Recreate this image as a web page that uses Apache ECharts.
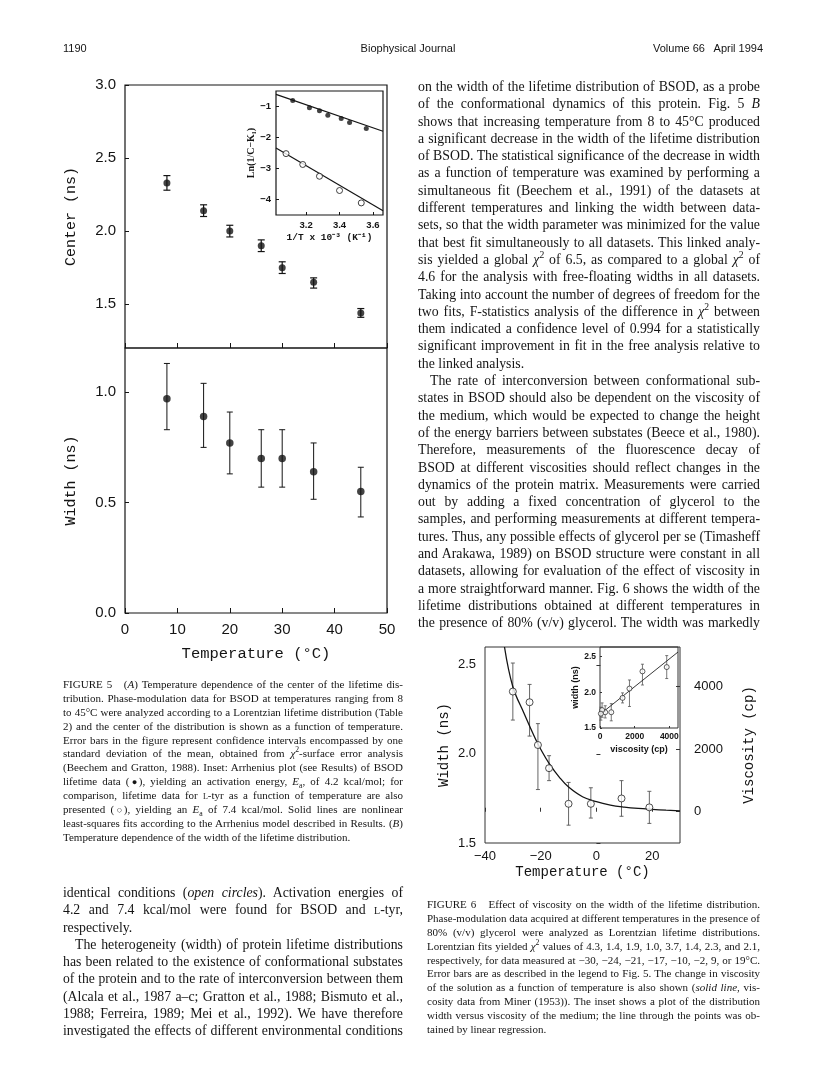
<!DOCTYPE html>
<html><head><meta charset="utf-8">
<script src="https://cdn.jsdelivr.net/npm/echarts/dist/echarts.min.js"></script>
<style>
body{margin:0;width:816px;height:1067px;position:relative;background:#fff;overflow:hidden;color:#141414}
#chart{position:absolute;left:0;top:0;width:816px;height:1067px}
.hdr{position:absolute;top:41px;font-family:"Liberation Sans";font-size:11px;line-height:14px;white-space:nowrap}
.col{position:absolute;font-family:"Liberation Serif"}
.col div{white-space:nowrap;text-align:justify;text-align-last:justify}
.col div.e{text-align-last:left}
.body{font-size:13.8px}
.body div{height:17.3px;line-height:17.3px}
.cap{font-size:11px}
.cap div{height:13.9px;line-height:13.9px}
sup{font-size:70%;line-height:0;vertical-align:super}
sub{font-size:70%;line-height:0}
.sc{font-variant:small-caps}
.ind{padding-left:12px}
.sym{font-family:"Liberation Serif","DejaVu Sans";font-size:85%;letter-spacing:-1px}
</style></head><body>
<div id="chart"></div>

<div class="hdr" style="left:63px">1190</div>
<div class="hdr" style="left:0;width:816px;text-align:center">Biophysical Journal</div>
<div class="hdr" style="left:653px;width:104px;text-align:justify;text-align-last:justify">Volume 66&nbsp;&nbsp; April 1994</div>

<div class="col body" style="left:418px;top:78px;width:342px">
<div>on the width of the lifetime distribution of BSOD, as a probe</div>
<div>of the conformational dynamics of this protein. Fig. 5 <i>B</i></div>
<div>shows that increasing temperature from 8 to 45°C produced</div>
<div>a significant decrease in the width of the lifetime distribution</div>
<div>of BSOD. The statistical significance of the decrease in width</div>
<div>as a function of temperature was examined by performing a</div>
<div>simultaneous fit (Beechem et al., 1991) of the datasets at</div>
<div>different temperatures and linking the width between data-</div>
<div>sets, so that the width parameter was minimized for the value</div>
<div>that best fit simultaneously to all datasets. This linked analy-</div>
<div>sis yielded a global <i>χ</i><sup>2</sup> of 6.5, as compared to a global <i>χ</i><sup>2</sup> of</div>
<div>4.6 for the analysis with free-floating widths in all datasets.</div>
<div>Taking into account the number of degrees of freedom for the</div>
<div>two fits, F-statistics analysis of the difference in <i>χ</i><sup>2</sup> between</div>
<div>them indicated a confidence level of 0.994 for a statistically</div>
<div>significant improvement in fit in the free analysis relative to</div>
<div class="e">the linked analysis.</div>
<div class="ind">The rate of interconversion between conformational sub-</div>
<div>states in BSOD should also be dependent on the viscosity of</div>
<div>the medium, which would be expected to change the height</div>
<div>of the energy barriers between substates (Beece et al., 1980).</div>
<div>Therefore, measurements of the fluorescence decay of</div>
<div>BSOD at different viscosities should reflect changes in the</div>
<div>dynamics of the protein matrix. Measurements were carried</div>
<div>out by adding a fixed concentration of glycerol to the</div>
<div>samples, and performing measurements at different tempera-</div>
<div>tures. Thus, any possible effects of glycerol per se (Timasheff</div>
<div>and Arakawa, 1989) on BSOD structure were constant in all</div>
<div>datasets, allowing for evaluation of the effect of viscosity in</div>
<div>a more straightforward manner. Fig. 6 shows the width of the</div>
<div>lifetime distributions obtained at different temperatures in</div>
<div>the presence of 80% (v/v) glycerol. The width was markedly</div>
</div>

<div class="col cap" style="left:63px;top:678px;width:340px">
<div>FIGURE 5&nbsp;&nbsp; (<i>A</i>) Temperature dependence of the center of the lifetime dis-</div>
<div>tribution. Phase-modulation data for BSOD at temperatures ranging from 8</div>
<div>to 45°C were analyzed according to a Lorentzian lifetime distribution (Table</div>
<div>2) and the center of the distribution is shown as a function of temperature.</div>
<div>Error bars in the figure represent confidence intervals encompassed by one</div>
<div>standard deviation of the mean, obtained from <i>χ</i><sup>2</sup>-surface error analysis</div>
<div>(Beechem and Gratton, 1988). Inset: Arrhenius plot (see Results) of BSOD</div>
<div>lifetime data (<span class="sym">●</span>), yielding an activation energy, <i>E</i><sub>a</sub>, of 4.2 kcal/mol; for</div>
<div>comparison, lifetime data for <span class="sc">l</span>-tyr as a function of temperature are also</div>
<div>presented (<span class="sym">○</span>), yielding an <i>E</i><sub>a</sub> of 7.4 kcal/mol. Solid lines are nonlinear</div>
<div>least-squares fits according to the Arrhenius model described in Results. (<i>B</i>)</div>
<div class="e">Temperature dependence of the width of the lifetime distribution.</div>
</div>

<div class="col body" style="left:63px;top:884px;width:340px">
<div>identical conditions (<i>open circles</i>). Activation energies of</div>
<div>4.2 and 7.4 kcal/mol were found for BSOD and <span class="sc">l</span>-tyr,</div>
<div class="e">respectively.</div>
<div class="ind">The heterogeneity (width) of protein lifetime distributions</div>
<div>has been related to the existence of conformational substates</div>
<div>of the protein and to the rate of interconversion between them</div>
<div>(Alcala et al., 1987 a–c; Gratton et al., 1988; Bismuto et al.,</div>
<div>1988; Ferreira, 1989; Mei et al., 1992). We have therefore</div>
<div>investigated the effects of different environmental conditions</div>
</div>

<div class="col cap" style="left:427px;top:898px;width:333px">
<div>FIGURE 6&nbsp;&nbsp; Effect of viscosity on the width of the lifetime distribution.</div>
<div>Phase-modulation data acquired at different temperatures in the presence of</div>
<div>80% (v/v) glycerol were analyzed as Lorentzian lifetime distributions.</div>
<div>Lorentzian fits yielded <i>χ</i><sup>2</sup> values of 4.3, 1.4, 1.9, 1.0, 3.7, 1.4, 2.3, and 2.1,</div>
<div>respectively, for data measured at −30, −24, −21, −17, −10, −2, 9, or 19°C.</div>
<div>Error bars are as described in the legend to Fig. 5. The change in viscosity</div>
<div>of the solution as a function of temperature is also shown (<i>solid line</i>, vis-</div>
<div>cosity data from Miner (1953)). The inset shows a plot of the distribution</div>
<div>width versus viscosity of the medium; the line through the points was ob-</div>
<div class="e">tained by linear regression.</div>
</div>

<script>
// fit each text line into its column width (shrink only if the line would overflow)
document.querySelectorAll('.col div').forEach(function(d){
  var cs = getComputedStyle(d);
  var m = document.createElement('span');
  m.style.cssText = 'position:absolute;visibility:hidden;white-space:nowrap;font-family:' + cs.fontFamily + ';font-size:' + cs.fontSize;
  m.innerHTML = d.innerHTML;
  document.body.appendChild(m);
  var w = m.getBoundingClientRect().width;
  var avail = d.clientWidth - (parseFloat(cs.paddingLeft) || 0);
  if (w > avail) d.style.fontSize = (parseFloat(cs.fontSize) * avail / w * 0.99) + 'px';
  m.remove();
});
</script>

<script>
// ---------- Figure 5 (A): center vs temperature ----------
var fig5Temp   = [8, 15, 20, 26, 30, 36, 45];
var centerNs   = [2.33, 2.14, 2.00, 1.90, 1.75, 1.65, 1.44];
var centerLo   = [2.28, 2.10, 1.96, 1.86, 1.71, 1.61, 1.41];
var centerHi   = [2.38, 2.18, 2.04, 1.94, 1.79, 1.68, 1.47];
// ---------- Figure 5 (B): width vs temperature ----------
var widthNs    = [0.97, 0.89, 0.77, 0.70, 0.70, 0.64, 0.55];
var widthLo    = [0.83, 0.75, 0.63, 0.57, 0.57, 0.515, 0.435];
var widthHi    = [1.13, 1.04, 0.91, 0.83, 0.83, 0.77, 0.66];
// ---------- Figure 5 inset: Arrhenius plot ----------
var bsodInvT   = [3.12, 3.22, 3.28, 3.33, 3.41, 3.46, 3.56];
var bsodLn     = [-0.81, -1.04, -1.14, -1.28, -1.39, -1.52, -1.71];
var bsodFitX   = [3.02, 3.66];
var bsodFitY   = [-0.61, -1.80];
var tyrInvT    = [3.08, 3.18, 3.28, 3.40, 3.53];
var tyrLn      = [-2.52, -2.87, -3.25, -3.71, -4.11];
var tyrFitX    = [3.02, 3.66];
var tyrFitY    = [-2.34, -4.36];
// ---------- Figure 6: width vs temperature in 80% glycerol ----------
var fig6Temp   = [-30, -24, -21, -17, -10, -2, 9, 19];
var fig6Width  = [2.35, 2.29, 2.05, 1.92, 1.72, 1.72, 1.75, 1.70];
var fig6Lo     = [2.19, 2.10, 1.80, 1.85, 1.60, 1.64, 1.65, 1.61];
var fig6Hi     = [2.51, 2.39, 2.17, 1.99, 1.84, 1.81, 1.85, 1.79];
var viscTemp   = [-33, -30, -26, -22, -20, -17, -13, -10, -5, 0, 5, 10, 15, 20, 25, 30];
var viscCp     = [5270, 4000, 3150, 2350, 2000, 1550, 1070, 790, 480, 320, 215, 150, 105, 75, 50, 30];
// ---------- Figure 6 inset: width vs viscosity ----------
var insetVisc  = [3850, 2450, 1700, 1300, 650, 300, 120, 50];
var insetFitX  = [0, 4500];
var insetFitY  = [1.69, 2.56];
// ---------- tick labels ----------
var f5CenterTicks = [1.5, 2.0, 2.5, 3.0];
var f5WidthTicks  = [0, 0.5, 1.0];
var f5InsetXTicks = [3.2, 3.4, 3.6];
var f5InsetYTicks = [-4, -3, -2, -1];
var f6XTicks      = [-40, -20, 0, 20];
var f6YTicks      = [1.5, 2.0, 2.5];
var f6ViscTicks   = [0, 2000, 4000];
var f6InXTicks    = [0, 2000, 4000];
var f6InYTicks    = [1.5, 2.0, 2.5];

function zip2(a, b){ return a.map(function(v,i){ return [v, b[i]]; }); }
function zip3(a, b, c){ return a.map(function(v,i){ return [v, b[i], c[i]]; }); }
function neg(v){ return (v < 0 ? '\u2212' : '') + Math.abs(v); }
function fix1(v){ return (v < 0 ? '\u2212' : '') + Math.abs(v).toFixed(1); }

function errBar(cap, color, w){
  return function(params, api){
    var x = api.value(0), lo = api.value(1), hi = api.value(2);
    var a = api.coord([x, lo]), b = api.coord([x, hi]);
    var st = {stroke: color, lineWidth: w};
    return {type:'group', children:[
      {type:'line', shape:{x1:a[0], y1:a[1], x2:b[0], y2:b[1]}, style:st},
      {type:'line', shape:{x1:a[0]-cap, y1:a[1], x2:a[0]+cap, y2:a[1]}, style:st},
      {type:'line', shape:{x1:b[0]-cap, y1:b[1], x2:b[0]+cap, y2:b[1]}, style:st}
    ]};
  };
}

var INK = '#141414';
var sans = 'Liberation Sans', mono = 'Liberation Mono';
function tick(vals, len, col){ var t = {show:true, inside:true, length:len, lineStyle:{color:col||INK, width:1}}; if (vals) t.customValues = vals; return t; }
function lab(vals, fmt, size, margin, extra){
  var l = {show:true, fontFamily:sans, fontSize:size, color:INK, margin:margin, formatter:fmt};
  if (vals) l.customValues = vals;
  if (extra) for (var k in extra) l[k] = extra[k];
  return l;
}
var noLine = {show:false};
var noSplit = {show:false};

var chart = echarts.init(document.getElementById('chart'), null, {renderer:'canvas'});
chart.setOption({
  animation: false,
  backgroundColor: 'transparent',
  grid: [
    {left:125, top:85,  width:262, height:263, show:true, borderColor:INK, borderWidth:1.2},
    {left:125, top:348, width:262, height:265, show:true, borderColor:INK, borderWidth:1.2},
    {left:276, top:91,  width:107, height:124, show:true, borderColor:INK, borderWidth:1.2},
    {left:485, top:647, width:195, height:196, show:true, borderColor:'#333', borderWidth:1},
    {left:600, top:647, width:78,  height:81,  show:true, borderColor:'#333', borderWidth:1}
  ],
  xAxis: [
    {gridIndex:0, type:'value', min:0, max:50, interval:10, axisLine:noLine, splitLine:noSplit,
     axisTick:tick(null,5), axisLabel:{show:false}},
    {gridIndex:1, type:'value', min:0, max:50, interval:10, axisLine:noLine, splitLine:noSplit,
     axisTick:tick(null,5), axisLabel:lab(null, neg, 15, 9),
     name:'Temperature (\u00B0C)', nameLocation:'middle', nameGap:33,
     nameTextStyle:{fontFamily:mono, fontSize:15.5, color:INK}},
    {gridIndex:2, type:'value', min:3.02, max:3.66, axisLine:noLine, splitLine:noSplit,
     axisTick:tick(f5InsetXTicks,3), axisLabel:lab(f5InsetXTicks, fix1, 9.5, 5, {fontWeight:'bold'}),
     name:'1/T x 10\u207B\u00B3 (K\u207B\u00B9)', nameLocation:'middle', nameGap:18,
     nameTextStyle:{fontFamily:mono, fontSize:9.5, fontWeight:'bold', color:INK}},
    {gridIndex:3, type:'value', min:-40, max:30, axisLine:noLine, splitLine:noSplit,
     axisTick:tick(f6XTicks,4,'#333'), axisLabel:lab(f6XTicks, neg, 13, 7),
     name:'Temperature (\u00B0C)', nameLocation:'middle', nameGap:22,
     nameTextStyle:{fontFamily:mono, fontSize:14, color:INK}},
    {gridIndex:4, type:'value', min:0, max:4500, axisLine:noLine, splitLine:noSplit,
     axisTick:tick(f6InXTicks,2,'#333'), axisLabel:lab(f6InXTicks, neg, 8.5, 4, {fontWeight:'bold'}),
     name:'viscosity (cp)', nameLocation:'middle', nameGap:17,
     nameTextStyle:{fontFamily:sans, fontSize:9, fontWeight:'bold', color:INK}}
  ],
  yAxis: [
    {gridIndex:0, type:'value', min:1.2, max:3.0, axisLine:noLine, splitLine:noSplit,
     axisTick:tick(f5CenterTicks,4), axisLabel:lab(f5CenterTicks, fix1, 15, 9),
     name:'Center (ns)', nameLocation:'middle', nameGap:46,
     nameTextStyle:{fontFamily:mono, fontSize:15, color:INK}},
    {gridIndex:1, type:'value', min:0, max:1.2, axisLine:noLine, splitLine:noSplit,
     axisTick:tick(f5WidthTicks,4), axisLabel:lab(f5WidthTicks, fix1, 15, 9),
     name:'Width (ns)', nameLocation:'middle', nameGap:46,
     nameTextStyle:{fontFamily:mono, fontSize:15, color:INK}},
    {gridIndex:2, type:'value', min:-4.5, max:-0.5, axisLine:noLine, splitLine:noSplit,
     axisTick:tick(f5InsetYTicks,3), axisLabel:lab(f5InsetYTicks, neg, 9.5, 5, {fontWeight:'bold'}),
     name:'Ln(1/C\u2212K\u2081)', nameLocation:'middle', nameGap:18,
     nameTextStyle:{fontFamily:'Liberation Serif', fontSize:10, fontWeight:'bold', color:INK}},
    {gridIndex:3, type:'value', min:1.5, max:2.6, axisLine:noLine, splitLine:noSplit,
     axisTick:tick(f6YTicks,4,'#333'), axisLabel:lab(f6YTicks, fix1, 13, 9),
     name:'Width (ns)', nameLocation:'middle', nameGap:34,
     nameTextStyle:{fontFamily:mono, fontSize:14, color:INK}},
    {gridIndex:3, type:'value', position:'right', min:-1000, max:5270, axisLine:noLine, splitLine:noSplit,
     axisTick:tick(f6ViscTicks,4,'#333'), axisLabel:lab(f6ViscTicks, neg, 13, 14),
     name:'Viscosity (cp)', nameLocation:'middle', nameGap:62, nameRotate:90,
     nameTextStyle:{fontFamily:mono, fontSize:14, color:INK}},
    {gridIndex:4, type:'value', min:1.5, max:2.63, axisLine:noLine, splitLine:noSplit,
     axisTick:tick(f6InYTicks,2,'#333'), axisLabel:lab(f6InYTicks, fix1, 8.5, 4, {fontWeight:'bold'}),
     name:'width (ns)', nameLocation:'middle', nameGap:17,
     nameTextStyle:{fontFamily:sans, fontSize:9, fontWeight:'bold', color:INK}}
  ],
  series: [
    // Fig 5A
    {type:'custom', xAxisIndex:0, yAxisIndex:0, renderItem:errBar(3.5, INK, 1.2),
     encode:{x:0, y:[1,2]}, data:zip3(fig5Temp, centerLo, centerHi), z:2},
    {type:'scatter', xAxisIndex:0, yAxisIndex:0, symbol:'circle', symbolSize:7,
     itemStyle:{color:INK}, data:zip2(fig5Temp, centerNs), z:3},
    // Fig 5B
    {type:'custom', xAxisIndex:1, yAxisIndex:1, renderItem:errBar(3, INK, 1),
     encode:{x:0, y:[1,2]}, data:zip3(fig5Temp, widthLo, widthHi), z:2},
    {type:'scatter', xAxisIndex:1, yAxisIndex:1, symbol:'circle', symbolSize:7.5,
     itemStyle:{color:INK}, data:zip2(fig5Temp, widthNs), z:3},
    // Fig 5 inset
    {type:'line', xAxisIndex:2, yAxisIndex:2, symbol:'none', lineStyle:{color:INK, width:1.2},
     data:zip2(bsodFitX, bsodFitY)},
    {type:'line', xAxisIndex:2, yAxisIndex:2, symbol:'none', lineStyle:{color:INK, width:1.2},
     data:zip2(tyrFitX, tyrFitY)},
    {type:'scatter', xAxisIndex:2, yAxisIndex:2, symbol:'circle', symbolSize:5,
     itemStyle:{color:INK}, data:zip2(bsodInvT, bsodLn), z:3},
    {type:'scatter', xAxisIndex:2, yAxisIndex:2, symbol:'circle', symbolSize:6,
     itemStyle:{color:'#fff', borderColor:INK, borderWidth:1}, data:zip2(tyrInvT, tyrLn), z:3},
    // Fig 6 main
    {type:'line', xAxisIndex:3, yAxisIndex:4, symbol:'none', smooth:0.4,
     lineStyle:{color:INK, width:1.3}, data:zip2(viscTemp, viscCp)},
    {type:'custom', xAxisIndex:3, yAxisIndex:3, renderItem:errBar(2, '#555', 0.9),
     encode:{x:0, y:[1,2]}, data:zip3(fig6Temp, fig6Lo, fig6Hi), z:2},
    {type:'scatter', xAxisIndex:3, yAxisIndex:3, symbol:'circle', symbolSize:7,
     itemStyle:{color:'#fff', borderColor:'#222', borderWidth:1}, data:zip2(fig6Temp, fig6Width), z:3},
    // Fig 6 inset
    {type:'line', xAxisIndex:4, yAxisIndex:5, symbol:'none', lineStyle:{color:'#222', width:0.9},
     data:zip2(insetFitX, insetFitY)},
    {type:'custom', xAxisIndex:4, yAxisIndex:5, renderItem:errBar(1.5, '#555', 0.8),
     encode:{x:0, y:[1,2]}, data:zip3(insetVisc, fig6Lo, fig6Hi), z:2},
    {type:'scatter', xAxisIndex:4, yAxisIndex:5, symbol:'circle', symbolSize:5,
     itemStyle:{color:'#fff', borderColor:'#222', borderWidth:0.9}, data:zip2(insetVisc, fig6Width), z:3}
  ]
});
</script>
</body></html>
